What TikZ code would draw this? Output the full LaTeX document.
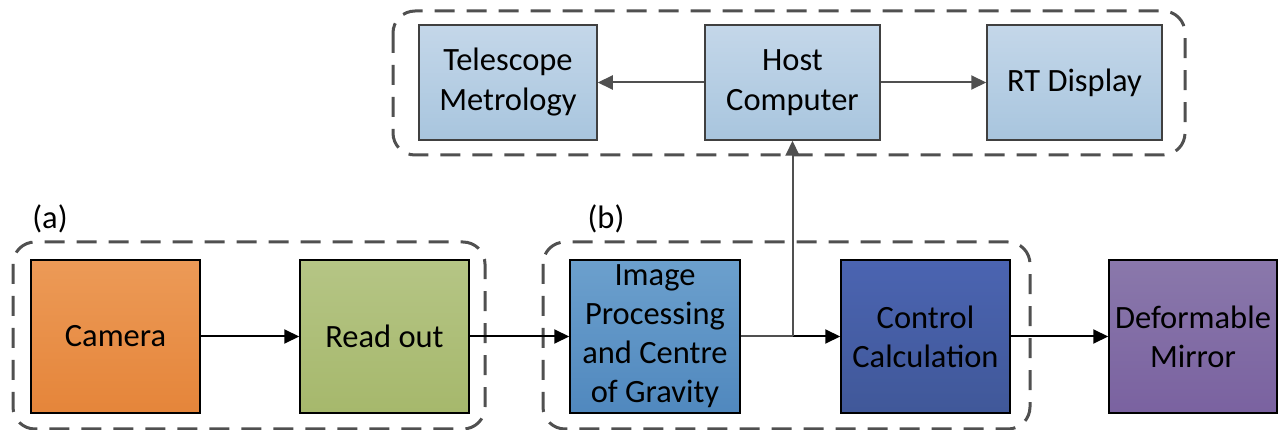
\documentclass[tikz,border=0pt]{standalone}
\usepackage{fontspec}
\setmainfont{Carlito}
\usetikzlibrary{arrows.meta,calc}
\definecolor{dashgrey}{HTML}{505050}
\definecolor{linegrey}{HTML}{505050}
\tikzset{
  blk/.style={draw=black, line width=1.5pt, inner sep=0pt, shading=axis, shading angle=0,
    minimum height=153pt, align=center, font=\fontsize{32.5}{39}\selectfont},
  topblk/.style={draw=black!75, line width=1.5pt, inner sep=0pt, shading=axis, shading angle=0,
    top color=topA, bottom color=topB, minimum width=176pt, minimum height=115pt,
    align=center, font=\fontsize{32.5}{40}\selectfont},
  grp/.style={draw=dashgrey, line width=3pt, dash pattern=on 20pt off 12pt, rounded corners=22pt},
  arr/.style={draw=black, line width=2pt, -{Triangle[length=15pt,width=14pt]}},
  garr/.style={draw=linegrey, line width=2pt, -{Triangle[length=15pt,width=14pt]}},
  lbl/.style={inner sep=0pt, font=\fontsize{32.5}{39}\selectfont},
}
\definecolor{camA}{HTML}{EC9A57}\definecolor{camB}{HTML}{E5853A}
\definecolor{rdA}{HTML}{B5C585}\definecolor{rdB}{HTML}{A6B86C}
\definecolor{ipA}{HTML}{6CA0CD}\definecolor{ipB}{HTML}{5088BE}
\definecolor{ccA}{HTML}{4B64B1}\definecolor{ccB}{HTML}{405899}
\definecolor{dmA}{HTML}{8A78AB}\definecolor{dmB}{HTML}{7A62A0}
\definecolor{topA}{HTML}{C4D7E9}\definecolor{topB}{HTML}{A8C5DE}
\begin{document}
\begin{tikzpicture}[x=1pt,y=-1pt]
\useasboundingbox (0,0) rectangle (1278,430);
\begin{scope}
\clip (0,0) rectangle (1278,430);
% groups
\draw[grp] (13,242) rectangle (485,429);
\draw[grp] (543,242) rectangle (1030,429);
\draw[grp] (393,11) rectangle (1185,155);
\node[lbl] (la) at (50,219) {(a)};
\node[lbl] (lb) at (606,219) {(b)};
% bottom row
\node[blk, minimum width=169pt, top color=camA, bottom color=camB] (cam) at (115.5,336.5) {Camera};
\node[blk, minimum width=169pt, top color=rdA, bottom color=rdB] (rd) at (384.5,336.5) {Read out};
\node[blk, minimum width=170pt, top color=ipA, bottom color=ipB] (ip) at (655,336.5) {Image\\Processing\\and Centre\\of Gravity};
\node[blk, minimum width=169pt, top color=ccA, bottom color=ccB] (cc) at (925.5,336.5) {Control\\Calculation};
\node[blk, minimum width=168pt, top color=dmA, bottom color=dmB] (dm) at (1193,336.5) {Deformable\\Mirror};
% top row
\node[topblk, minimum width=178pt] (tm) at (508,82.5) {Telescope\\Metrology};
\node[topblk, minimum width=175pt] (hc) at (792.5,82.5) {Host\\Computer};
\node[topblk, minimum width=175pt] (rt) at (1074.5,82.5) {RT Display};
% connectors
\coordinate (j) at (hc.south |- ip.east);
\draw[arr] (cam) -- (rd);
\draw[arr] (rd) -- (ip);
\draw[draw=linegrey, line width=2pt] (ip.east) -- (j);
\draw[arr] (j) -- (cc.west);
\draw[garr] (j) -- (hc.south);
\draw[arr] (cc) -- (dm);
\draw[garr] (hc) -- (tm);
\draw[garr] (hc) -- (rt);
\end{scope}
\end{tikzpicture}
\end{document}
